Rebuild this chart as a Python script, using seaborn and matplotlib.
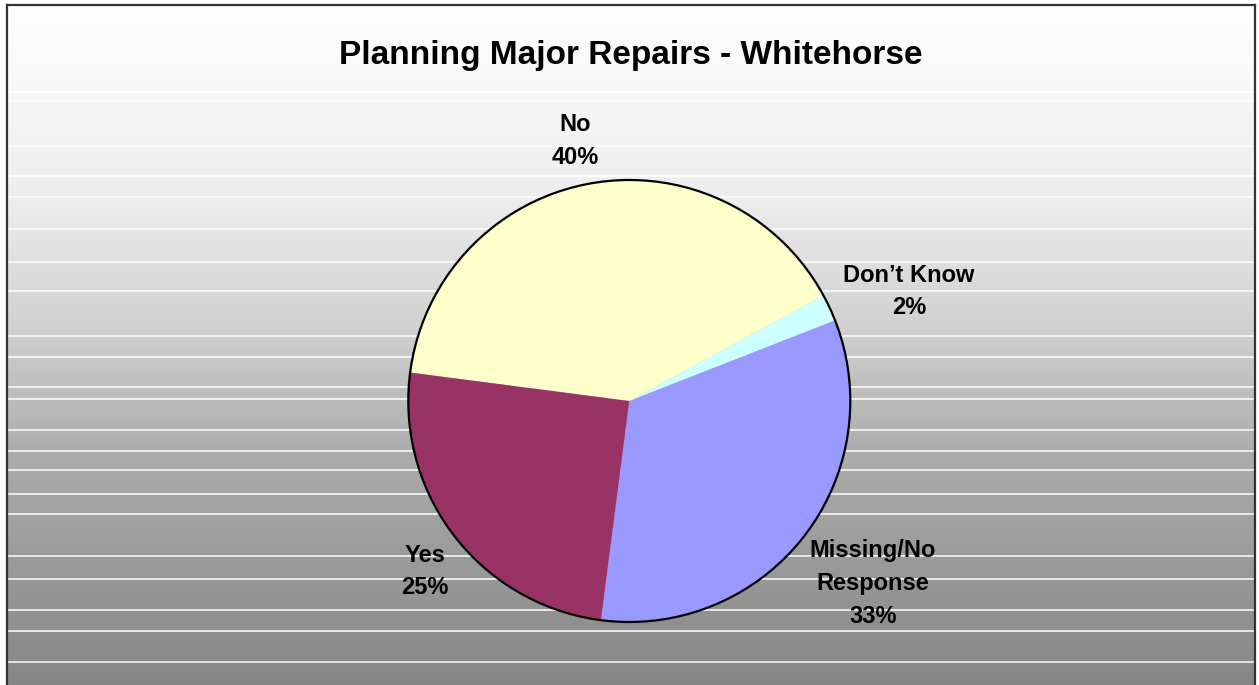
import numpy as np
import matplotlib
matplotlib.use("Agg")
import matplotlib.pyplot as plt
import seaborn as sns
from matplotlib.patches import Circle

# Survey answers and their shares (percent)
categories = ["No", "Don\u2019t Know", "Missing/No\nResponse", "Yes"]
shares = [40, 2, 33, 25]
slice_colors = ["#FFFFCC", "#CCFFFF", "#9999FF", "#993366"]
title_text = "Planning Major Repairs - Whitehorse"

sns.set_theme(style="white")
plt.rcParams["font.family"] = ["Liberation Sans", "DejaVu Sans"]

W, H = 1259, 685
fig = plt.figure(figsize=(W / 100, H / 100), dpi=100)
fig.patch.set_facecolor("white")
ax = fig.add_axes([0, 0, 1, 1])


def up(y):
    """Convert a top-down pixel row to the axes' bottom-up coordinate."""
    return H - y


# Chart-area background: vertical white-to-grey gradient
left, right, top = 8, 1254, 6
rows = np.arange(top, H + 1)
stops_y = [6, 200, 340, 452, 685]
stops_v = [255, 237, 205, 172, 134]
vals = np.interp(rows, stops_y, stops_v) / 255.0
grad = np.repeat(vals[:, None], 3, axis=1)[:, None, :]
ax.imshow(grad, extent=[left, right, 0, up(top)], aspect="auto",
          interpolation="bilinear", zorder=0)

# Thin light bands across the gradient
band_rows = [92, 101, 145.5, 175.5, 196.5, 228.5, 261.5, 290.7, 335.5, 356.5,
             386.7, 398.5, 430, 451, 470, 493.5, 514, 555.5, 579, 609.5,
             630.5, 662]
ax.hlines([up(r) for r in band_rows], left, right, colors="white",
          linewidth=1.1, zorder=1)

# Outer frame (left, top, right)
frame_kw = dict(color="#333333", linewidth=1.6, solid_capstyle="projecting", zorder=5)
ax.plot([7, 7], [0, up(5)], **frame_kw)
ax.plot([7, 1255], [up(5), up(5)], **frame_kw)
ax.plot([1255, 1255], [0, up(5)], **frame_kw)

# Pie
cx, cy, radius = 629.3, up(401), 221
wedges, _ = ax.pie(shares, colors=slice_colors, startangle=172.6,
                   counterclock=False, center=(cx, cy), radius=radius,
                   frame=True, wedgeprops=dict(linewidth=0))
for w in wedges:
    w.set_zorder(3)
ax.add_patch(Circle((cx, cy), radius, fill=False, edgecolor="black",
                    linewidth=1.6, zorder=4))

# Data labels
label_pos = [(575, 141), (909, 291.5), (873, 583.5), (424.5, 571.5)]
for cat, share, (lx, ly) in zip(categories, shares, label_pos):
    ax.text(lx, up(ly), f"{cat}\n{share}%", ha="center", va="center",
            fontsize=17, fontweight="bold", color="black",
            linespacing=1.55, zorder=6)

# Title
ax.text(630.5, up(55), title_text, ha="center", va="center",
        fontsize=24, fontweight="bold", color="black", zorder=6)

ax.set_xlim(0, W)
ax.set_ylim(0, H)
ax.set_aspect("auto")
ax.axis("off")

fig.savefig("out.png", dpi=100, facecolor="white")
